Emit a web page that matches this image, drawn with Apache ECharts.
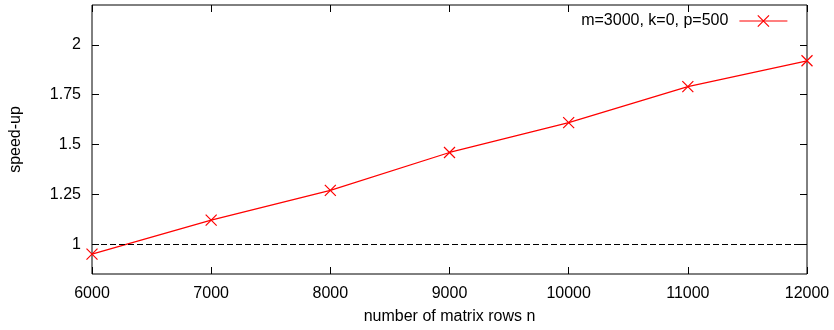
<!DOCTYPE html>
<html>
<head>
<meta charset="utf-8">
<script src="https://cdn.jsdelivr.net/npm/echarts@6/dist/echarts.min.js"></script>
<style>
  html, body { margin: 0; padding: 0; background: #fff; }
  #chart { width: 834px; height: 330px; }
</style>
</head>
<body>
<div id="chart"></div>
<script>
// Matrix rows (x) and measured speed-up (y)
const rows = [6000, 7000, 8000, 9000, 10000, 11000, 12000];
const speedup = [0.95, 1.12, 1.27, 1.46, 1.61, 1.79, 1.92];
const seriesName = 'm=3000, k=0, p=500';
const yTicks = [1, 1.25, 1.5, 1.75, 2];
const baseline = 1;

const FONT = 'Liberation Sans, Arial, Helvetica, sans-serif';
const FS = 16;
const CROSS = 'path://M0,0L10,10M10,0L0,10';

const chart = echarts.init(document.getElementById('chart'), null, { renderer: 'canvas' });

const tickStyle = { show: true, inside: true, length: 7, lineStyle: { color: '#000', width: 1 } };
const crossStyle = { color: 'rgba(0,0,0,0)', borderColor: '#ff0000', borderWidth: 1.2 };

chart.setOption({
  animation: false,
  backgroundColor: '#fff',
  textStyle: { fontFamily: FONT, color: '#000' },
  grid: {
    left: 92, right: 27, top: 5, bottom: 56,
    show: true, borderColor: '#000', borderWidth: 1, backgroundColor: 'transparent'
  },
  legend: {
    right: 46, top: 13, padding: 0,
    align: 'right',
    itemWidth: 48, itemHeight: 14, itemGap: 0,
    itemStyle: crossStyle,
    lineStyle: { width: 1.2, color: '#ff0000' },
    textStyle: { fontFamily: FONT, fontSize: FS, color: '#000', padding: [0, 6, 0, 0] },
    data: [{ name: seriesName }]
  },
  xAxis: [
    {
      type: 'value', min: 6000, max: 12000, interval: 1000,
      name: 'number of matrix rows n', nameLocation: 'middle', nameGap: 35,
      nameTextStyle: { fontFamily: FONT, fontSize: FS, color: '#000' },
      axisLine: { show: false }, axisTick: tickStyle, splitLine: { show: false },
      axisLabel: { fontFamily: FONT, fontSize: FS, color: '#000', margin: 12, formatter: v => String(v) }
    },
    {
      type: 'value', position: 'top', min: 6000, max: 12000, interval: 1000,
      axisLine: { show: false }, axisTick: tickStyle, splitLine: { show: false },
      axisLabel: { show: false }
    }
  ],
  yAxis: [
    {
      type: 'value', min: 0.85, max: 2.2,
      name: 'speed-up', nameLocation: 'middle', nameGap: 68, nameRotate: 90,
      nameTextStyle: { fontFamily: FONT, fontSize: FS, color: '#000' },
      axisLine: { show: false },
      axisTick: Object.assign({ customValues: yTicks }, tickStyle),
      splitLine: { show: false },
      axisLabel: { customValues: yTicks, fontFamily: FONT, fontSize: FS, color: '#000', margin: 11 }
    },
    {
      type: 'value', position: 'right', min: 0.85, max: 2.2,
      axisLine: { show: false },
      axisTick: Object.assign({ customValues: yTicks }, tickStyle),
      splitLine: { show: false },
      axisLabel: { show: false }
    }
  ],
  series: [
    {
      name: seriesName,
      type: 'line',
      xAxisIndex: 0, yAxisIndex: 0,
      data: rows.map((r, i) => [r, speedup[i]]),
      symbol: CROSS, symbolSize: 11,
      showAllSymbol: true,
      lineStyle: { color: '#ff0000', width: 1.2 },
      itemStyle: crossStyle,
      z: 3,
      markLine: {
        silent: true,
        symbol: ['none', 'none'],
        label: { show: false },
        lineStyle: { color: '#000', type: [6, 3], width: 1 },
        data: [{ yAxis: baseline }]
      }
    }
  ]
});
</script>
</body>
</html>
